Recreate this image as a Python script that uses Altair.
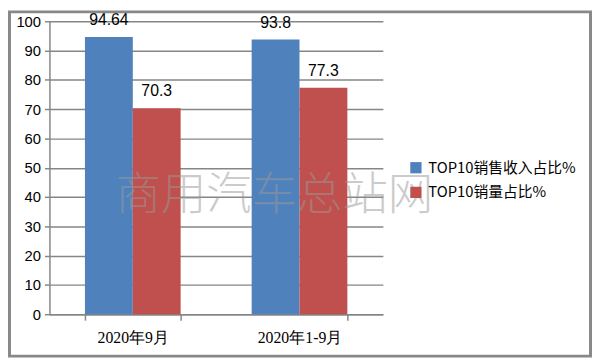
import altair as alt
import pandas as pd

categories = ["2020年9月", "2020年1-9月"]
series = ["TOP10销售收入占比%", "TOP10销量占比%"]
revenue_share = [94.64, 93.8]
volume_share = [70.3, 77.3]
colors = ["#4F81BD", "#C0504D"]
y_ticks = [0, 10, 20, 30, 40, 50, 60, 70, 80, 90, 100]

rows = []
for i, c in enumerate(categories):
    rows.append({"cat": c, "series": series[0], "value": revenue_share[i]})
    rows.append({"cat": c, "series": series[1], "value": volume_share[i]})
df = pd.DataFrame(rows)

W, H = 338, 297
PL, PT = 42, 11

x_axis = alt.Axis(labelAngle=0, labelFont="Liberation Serif", labelFontSize=16,
                  labelColor="#000000", labelPadding=10, tickBand="extent",
                  domainColor="#868686", domainWidth=1.5, tickColor="#868686",
                  tickWidth=1.5, tickSize=6)
y_axis = alt.Axis(values=y_ticks, labelOverlap=False,
                  labelFont="Liberation Sans",
                  labelFontSize=15, labelColor="#000000", labelPadding=4,
                  domainColor="#868686", domainWidth=1.5, tickColor="#868686",
                  tickWidth=1.5, tickSize=5, gridColor="#868686", gridWidth=1.5)
x_scale = alt.Scale(paddingInner=0.426, paddingOuter=0.213)
y_scale = alt.Scale(domain=[0, 100], nice=False)

def xenc():
    return alt.X("cat:N", sort=categories, title=None, scale=x_scale, axis=x_axis)

def yenc():
    return alt.Y("value:Q", title=None, scale=y_scale, axis=y_axis)

color = alt.Color("series:N", sort=series,
                  scale=alt.Scale(domain=series, range=colors),
                  legend=alt.Legend(title=None, orient="none", legendX=364, legendY=141,
                                    symbolType="square", symbolSize=130, symbolStrokeWidth=0,
                                    labelFont="Noto Sans CJK SC", labelFontSize=15,
                                    labelColor="#000000", rowPadding=9, labelOffset=5))

bars = alt.Chart(df).mark_bar(strokeWidth=0).encode(
    x=xenc(), y=yenc(), color=color, xOffset=alt.XOffset("series:N", sort=series)
)

labels = alt.Chart(df).mark_text(baseline="bottom", dy=-9, font="Liberation Sans",
                                 fontSize=16, color="#000000").encode(
    x=xenc(),
    xOffset=alt.XOffset("series:N", sort=series),
    y=yenc(),
    text=alt.Text("value:Q"),
)

wm = alt.Chart(pd.DataFrame({"t": ["商用汽车总站网"]})).mark_text(
    font="Noto Sans CJK SC", fontSize=46, fontWeight=300, color="#999999",
    opacity=0.5, align="center", baseline="middle"
).encode(x=alt.value(228), y=alt.value(177), text="t:N")

frame = alt.Chart(pd.DataFrame({"a": [0]})).mark_rect(
    fill=None, stroke="#888888", strokeWidth=3
).encode(x=alt.value(-PL + 1.5), x2=alt.value(W + 212 - 1.5),
         y=alt.value(-PT + 1.5), y2=alt.value(H + 44 - 1.5))

chart = alt.layer(bars, labels, wm, frame).properties(
    width=W, height=H,
    autosize=alt.AutoSizeParams(type="none"),
    padding={"left": PL, "top": PT, "right": 212, "bottom": 44},
).configure_view(stroke=None).configure_scale(offsetBandPaddingInner=0)

chart.save("out.html", embed_options={"renderer": "svg", "actions": False})
